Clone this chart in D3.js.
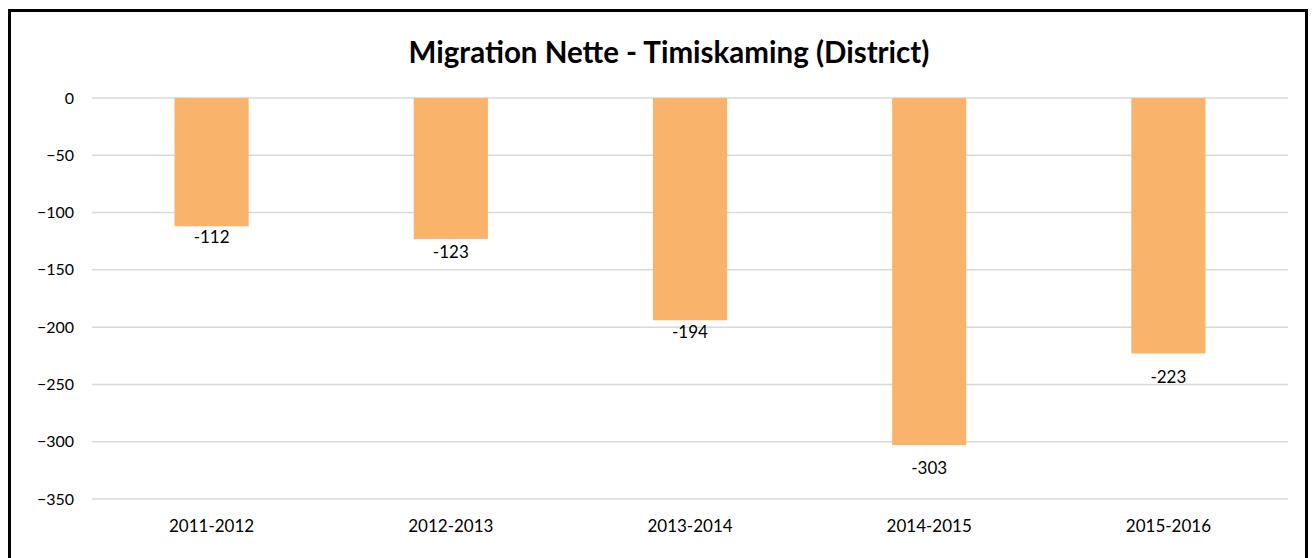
<!DOCTYPE html>
<html><head><meta charset="utf-8">
<script src="https://cdn.jsdelivr.net/npm/d3@7"></script>
<style>body{margin:0;background:#fff;}svg{display:block;font-family:Lato,"Open Sans",sans-serif;}</style>
</head><body>
<script>
const categories = ["2011-2012","2012-2013","2013-2014","2014-2015","2015-2016"];
const values = [-112,-123,-194,-303,-223];
const yTicks = [0,-50,-100,-150,-200,-250,-300,-350];
const title = "Migration Nette - Timiskaming (District)";
// label vertical offsets below bar ends (layout only)
const labelDy = [17, 19, 18, 29, 30];

const W = 1313, H = 558;
const svg = d3.select("body").append("svg").attr("width", W).attr("height", H);
svg.append("rect").attr("width", W).attr("height", H).attr("fill", "#fff");
svg.append("rect").attr("x", 9.5).attr("y", 10.5).attr("width", 1297).attr("height", 560)
  .attr("fill", "none").attr("stroke", "#000").attr("stroke-width", 3);

const x = d3.scaleBand().domain(categories).range([92, 1288]).paddingInner(0.69).paddingOuter(0.345);
const y = d3.scaleLinear().domain([-350, 0]).range([499, 98]);

svg.append("g").selectAll("line").data(yTicks).join("line")
  .attr("x1", 92).attr("x2", 1288).attr("y1", d => y(d)).attr("y2", d => y(d))
  .attr("stroke", "#d9d9d9").attr("stroke-width", 1.5);

const yAxis = d3.axisLeft(y).tickValues(yTicks).tickSize(0).tickPadding(0);
const gy = svg.append("g").attr("transform", "translate(74,0)").call(yAxis);
gy.select(".domain").remove();
gy.selectAll("text").attr("font-size", 16).attr("fill", "#000").attr("font-family", "Lato");

const xAxis = d3.axisBottom(x).tickSize(0).tickPadding(0);
const gx = svg.append("g").attr("transform", "translate(0,520)").call(xAxis);
gx.select(".domain").remove();
gx.selectAll("text").attr("font-size", 17).attr("fill", "#000").attr("font-family", "Lato");

svg.append("g").selectAll("rect").data(values).join("rect")
  .attr("x", (d, i) => x(categories[i])).attr("width", x.bandwidth())
  .attr("y", y(0)).attr("height", d => y(d) - y(0)).attr("fill", "#F9B36B");

svg.append("g").selectAll("text").data(values).join("text")
  .attr("x", (d, i) => x(categories[i]) + x.bandwidth() / 2)
  .attr("y", (d, i) => y(d) + labelDy[i]).attr("text-anchor", "middle")
  .attr("font-size", 17).attr("fill", "#000").text(d => d);

svg.append("text").attr("x", 669).attr("y", 63).attr("text-anchor", "middle")
  .attr("font-size", 29.5).attr("font-weight", "bold").attr("fill", "#000").text(title);
</script>
</body></html>
